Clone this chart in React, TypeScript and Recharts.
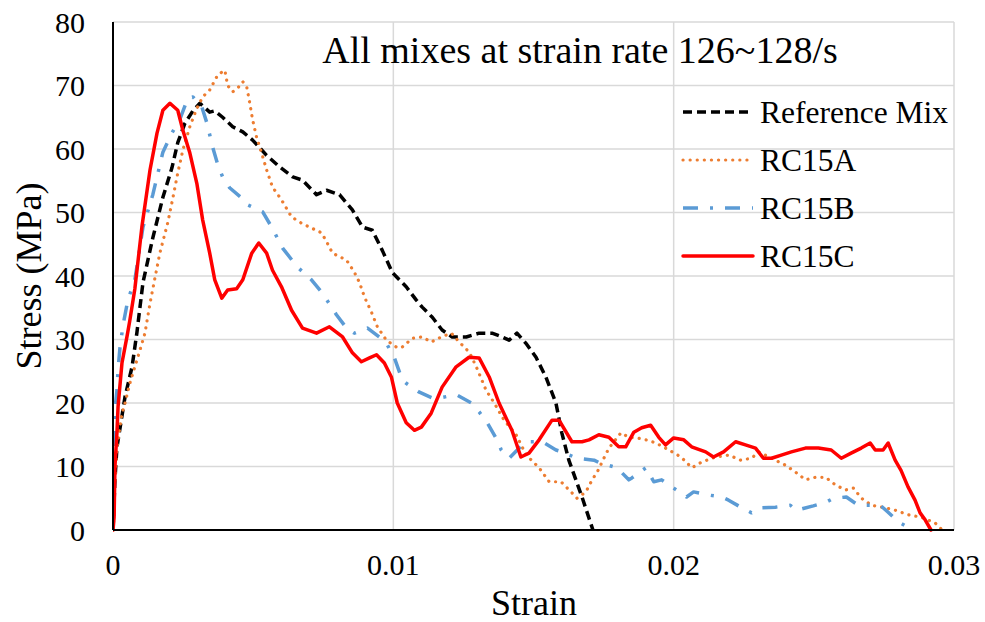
import {
  LineChart, Line, XAxis, YAxis, CartesianGrid, Customized,
} from 'recharts';

// [strain, stress (MPa)]
const referenceMix: [number, number][] = [
  [0, 0], [0.00007, 8], [0.00014, 13], [0.00043, 21], [0.00068, 25.7], [0.00085, 31],
  [0.00107, 39], [0.00142, 46], [0.00178, 52.4], [0.0021, 57], [0.00231, 61],
  [0.00256, 64], [0.00285, 66], [0.0031, 67.2], [0.00345, 65.8], [0.00363, 66],
  [0.00391, 65], [0.00427, 63.5], [0.00463, 62.7], [0.00498, 61.4], [0.00548, 59],
  [0.00594, 57.2], [0.00641, 55.6], [0.00676, 55.1], [0.00726, 52.8], [0.00762, 53.5],
  [0.00808, 52.8], [0.00854, 50.4], [0.0089, 47.7], [0.00925, 47.2], [0.00961, 44],
  [0.00997, 40.5], [0.01046, 38.3], [0.01082, 36.2], [0.01103, 35.1], [0.01139, 33.5],
  [0.01174, 31.5], [0.0121, 30.4], [0.0126, 30.4], [0.01306, 31], [0.01352, 31],
  [0.01388, 30.4], [0.01413, 29.9], [0.01441, 31], [0.01473, 29.4], [0.01509, 27.2],
  [0.01544, 24.1], [0.0158, 20], [0.01601, 15.3], [0.01626, 11], [0.01673, 5.2],
  [0.01712, 0],
];

const rc15a: [number, number][] = [
  [0, 0], [0.00007, 8], [0.00014, 13], [0.00032, 18.4], [0.00043, 20], [0.0006, 23.1],
  [0.00078, 25.7], [0.00096, 28.3], [0.00114, 31], [0.00132, 35.7], [0.00167, 43.6],
  [0.00196, 48.5], [0.00214, 52.4], [0.00231, 56.2], [0.00249, 59.8], [0.00274, 63.5],
  [0.00299, 66.4], [0.0032, 68.2], [0.00345, 69.3], [0.00374, 71.7], [0.00399, 72.4],
  [0.00409, 70], [0.00427, 69], [0.00445, 69.6], [0.00463, 70.6], [0.00477, 69.8],
  [0.00488, 67.2], [0.00498, 64.6], [0.00512, 61.9], [0.0053, 59.4], [0.00548, 56.7],
  [0.00569, 54], [0.00601, 52], [0.00637, 49.3], [0.00673, 48.3], [0.00701, 47.7],
  [0.00744, 46.8], [0.00762, 45.4], [0.00783, 43.6], [0.00833, 42.5], [0.00861, 40.6],
  [0.00879, 39], [0.00897, 36.7], [0.00922, 34.3], [0.00943, 32], [0.00975, 29.9],
  [0.01011, 28.8], [0.01029, 28.7], [0.01068, 30.2], [0.01104, 30.4], [0.01135, 29.6],
  [0.01171, 30.4], [0.01207, 31], [0.01235, 29.6], [0.01271, 28], [0.01296, 25.7],
  [0.01331, 22], [0.0136, 20], [0.01395, 17.3], [0.01438, 15], [0.01474, 11.8],
  [0.0152, 9.8], [0.01556, 7.6], [0.01598, 7.6], [0.01634, 6], [0.01655, 5],
  [0.01687, 6], [0.01709, 7.9], [0.01727, 9.1], [0.01751, 11.3], [0.01769, 12.9],
  [0.01787, 13.9], [0.01812, 15.3], [0.0184, 14.6], [0.01869, 14.5], [0.01901, 14.2],
  [0.01937, 13.7], [0.01983, 12.6], [0.02026, 11.5], [0.02065, 9.8], [0.021, 10.7],
  [0.0215, 11.5], [0.02197, 11.8], [0.02239, 11], [0.02278, 11.3], [0.02303, 12.3],
  [0.02349, 11.3], [0.02399, 10.2], [0.02435, 9.1], [0.0247, 7.9], [0.02506, 8.3],
  [0.02542, 8.3], [0.02577, 7.1], [0.02613, 6.3], [0.02641, 6.6], [0.0267, 5],
  [0.02706, 3.9], [0.02755, 3.5], [0.02791, 3.1], [0.02837, 2.4], [0.02884, 2],
  [0.02933, 1.1], [0.02958, 0],
];

const rc15b: [number, number][] = [
  [0, 0], [0.00004, 10], [0.00007, 18.9], [0.00014, 22], [0.00018, 25.2], [0.00025, 28.8],
  [0.00036, 32.3], [0.00053, 36.2], [0.00078, 39.4], [0.00107, 47.7], [0.00142, 52.8],
  [0.00178, 59.5], [0.0021, 62.5], [0.00238, 64.6], [0.00267, 68], [0.00285, 68.2],
  [0.00317, 66.6], [0.00335, 64.1], [0.00356, 60.2], [0.00374, 57.5], [0.00391, 55.6],
  [0.00416, 53.9], [0.00459, 52.3], [0.0048, 51.2], [0.00534, 50.1], [0.00566, 47.7],
  [0.00605, 44.4], [0.00658, 41.4], [0.00708, 39.4], [0.00747, 37.3], [0.00797, 33.9],
  [0.00833, 31.8], [0.00861, 31], [0.00908, 31.8], [0.0095, 30.4], [0.00979, 29.1],
  [0.01004, 27.1], [0.01032, 23.6], [0.01046, 23.1], [0.01093, 21.7], [0.01139, 20.8],
  [0.01164, 20.8], [0.01225, 21.3], [0.01278, 20], [0.01306, 18.6], [0.01335, 16.9],
  [0.0137, 14.2], [0.01385, 12.6], [0.01413, 11.3], [0.01449, 12.9], [0.01477, 13.9],
  [0.01531, 13.9], [0.0158, 12.6], [0.01602, 12.3], [0.01655, 11.3], [0.01716, 11],
  [0.01734, 10.6], [0.01798, 9.8], [0.0184, 7.9], [0.01851, 8.2], [0.01901, 9.8],
  [0.01929, 7.6], [0.01957, 7.9], [0.02, 6.6], [0.02046, 5.2], [0.02071, 6],
  [0.02125, 5.5], [0.02171, 5.2], [0.02196, 4.7], [0.02239, 3.6], [0.02278, 2.7],
  [0.0231, 3.5], [0.02363, 3.6], [0.02416, 3.9], [0.02438, 3.1], [0.02498, 3.8],
  [0.02545, 4.4], [0.0257, 5], [0.02616, 5.2], [0.02658, 3.9], [0.02737, 3.9],
  [0.02765, 2.8], [0.02801, 1.3], [0.02854, 0],
];

const rc15c: [number, number][] = [
  [0, 0], [0.00004, 2], [0.00007, 10], [0.00014, 15.3], [0.00018, 19.4], [0.00032, 26.3],
  [0.0005, 30.5], [0.0006, 33], [0.00078, 38], [0.00103, 47.7], [0.00132, 56.7],
  [0.00157, 62.5], [0.00178, 66.1], [0.00203, 67.2], [0.00231, 66.1], [0.00249, 63],
  [0.00274, 59.4], [0.00299, 54.6], [0.0032, 48.8], [0.00345, 43.6], [0.00363, 39.4],
  [0.00388, 36.5], [0.00409, 37.8], [0.00441, 38], [0.00463, 39.4], [0.00495, 43.6],
  [0.0052, 45.2], [0.00548, 43.6], [0.00569, 40.9], [0.00601, 38.3], [0.00637, 34.6],
  [0.00676, 31.8], [0.00726, 31], [0.00772, 32], [0.00819, 30.4], [0.00854, 27.9],
  [0.00886, 26.5], [0.00915, 27.1], [0.0094, 27.6], [0.00968, 26.3], [0.00993, 24.1],
  [0.01014, 20], [0.01046, 16.9], [0.01075, 15.7], [0.011, 16.2], [0.01135, 18.4],
  [0.01174, 22.5], [0.01224, 25.7], [0.0127, 27.2], [0.01306, 27.1], [0.01342, 24.1],
  [0.01377, 20], [0.01423, 15.7], [0.01455, 11.5], [0.01484, 12.1], [0.0152, 14.2],
  [0.01566, 17.3], [0.01591, 17.3], [0.01637, 13.9], [0.01673, 13.9], [0.01698, 14.2],
  [0.01733, 15], [0.01769, 14.6], [0.01804, 13.1], [0.01829, 13.1], [0.01858, 15.4],
  [0.01886, 16.1], [0.01918, 16.5], [0.01947, 14.6], [0.01971, 13.4], [0.02, 14.5],
  [0.02036, 14.2], [0.02064, 13.1], [0.02114, 12.3], [0.02142, 11.5], [0.02178, 12.3],
  [0.02221, 13.9], [0.02256, 13.4], [0.02292, 12.9], [0.0232, 11.3], [0.02349, 11.3],
  [0.02384, 11.8], [0.0242, 12.3], [0.0247, 12.9], [0.02516, 12.9], [0.02562, 12.6],
  [0.02598, 11.3], [0.02633, 12.1], [0.02669, 12.9], [0.02701, 13.7], [0.02719, 12.6],
  [0.02747, 12.6], [0.02765, 13.7], [0.0279, 11], [0.02811, 9.4], [0.02836, 6.8],
  [0.02861, 4.7], [0.02879, 2.7], [0.02897, 1.6], [0.02918, 0],
];

const xTicks = [0, 0.01, 0.02, 0.03];
const yTicks = [0, 10, 20, 30, 40, 50, 60, 70, 80];

const FONT = '"Liberation Serif", "Times New Roman", serif';

const series = [
  {
    name: 'Reference Mix', points: referenceMix, color: '#000000', width: 3.5, dash: '9 5', cap: 'butt' as const,
  },
  {
    name: 'RC15A', points: rc15a, color: '#ED7D31', width: 3.2, dash: '0.1 7', cap: 'round' as const,
  },
  {
    name: 'RC15B', points: rc15b, color: '#5B9BD5', width: 3.5, dash: '15 12 3 12', cap: 'butt' as const,
  },
  {
    name: 'RC15C', points: rc15c, color: '#FF0000', width: 3.5, dash: undefined, cap: 'round' as const,
  },
];

const toRows = (pts: [number, number][]) => pts.map(([strain, stress]) => ({ strain, stress }));

// title, axis titles and the legend box, drawn in the chart's own svg
function ChartTexts() {
  return (
    <g fontFamily={FONT} fill="#000">
      <text x={580} y={63} fontSize={38} textAnchor="middle">All mixes at strain rate 126~128/s</text>
      <text x={534} y={615} fontSize={36} textAnchor="middle">Strain</text>
      <text x={41} y={276} fontSize={36} textAnchor="middle" transform="rotate(-90, 41, 276)">Stress (MPa)</text>
      {series.map((s, i) => (
        <g key={s.name}>
          <line
            x1={683}
            x2={753}
            y1={112 + i * 48}
            y2={112 + i * 48}
            stroke={s.color}
            strokeWidth={s.width}
            strokeDasharray={s.dash}
            strokeLinecap={s.cap}
          />
          <text x={760} y={112 + i * 48} dy="0.35em" fontSize={31.5}>{s.name}</text>
        </g>
      ))}
    </g>
  );
}

export default function App() {
  return (
    <div style={{
      position: 'absolute', left: 0, top: 0, width: 985, height: 622, background: '#fff', fontFamily: FONT,
    }}
    >
      <LineChart
        width={985}
        height={622}
        style={{ fontFamily: FONT }}
        margin={{
          top: 22, right: 31, left: 0, bottom: 0,
        }}
      >
        <CartesianGrid stroke="#D9D9D9" strokeWidth={1.5} horizontal vertical />
        <XAxis
          type="number"
          dataKey="strain"
          domain={[0, 0.03]}
          ticks={xTicks}
          allowDataOverflow
          height={92}
          tickLine={false}
          tickSize={0}
          tickMargin={24}
          axisLine={{ stroke: '#000', strokeWidth: 2 }}
          tick={{ fill: '#000', fontSize: 30, fontFamily: FONT }}
        />
        <YAxis
          type="number"
          domain={[0, 80]}
          ticks={yTicks}
          width={113}
          tickLine={false}
          tickSize={0}
          tickMargin={28}
          axisLine={{ stroke: '#000', strokeWidth: 2 }}
          tick={{ fill: '#000', fontSize: 30, fontFamily: FONT }}
        />
        {series.map((s) => (
          <Line
            key={s.name}
            name={s.name}
            data={toRows(s.points)}
            dataKey="stress"
            type="linear"
            stroke={s.color}
            strokeWidth={s.width}
            strokeDasharray={s.dash}
            strokeLinecap={s.cap}
            strokeLinejoin="round"
            dot={false}
            activeDot={false}
            isAnimationActive={false}
          />
        ))}
        <Customized component={ChartTexts} />
      </LineChart>
    </div>
  );
}
